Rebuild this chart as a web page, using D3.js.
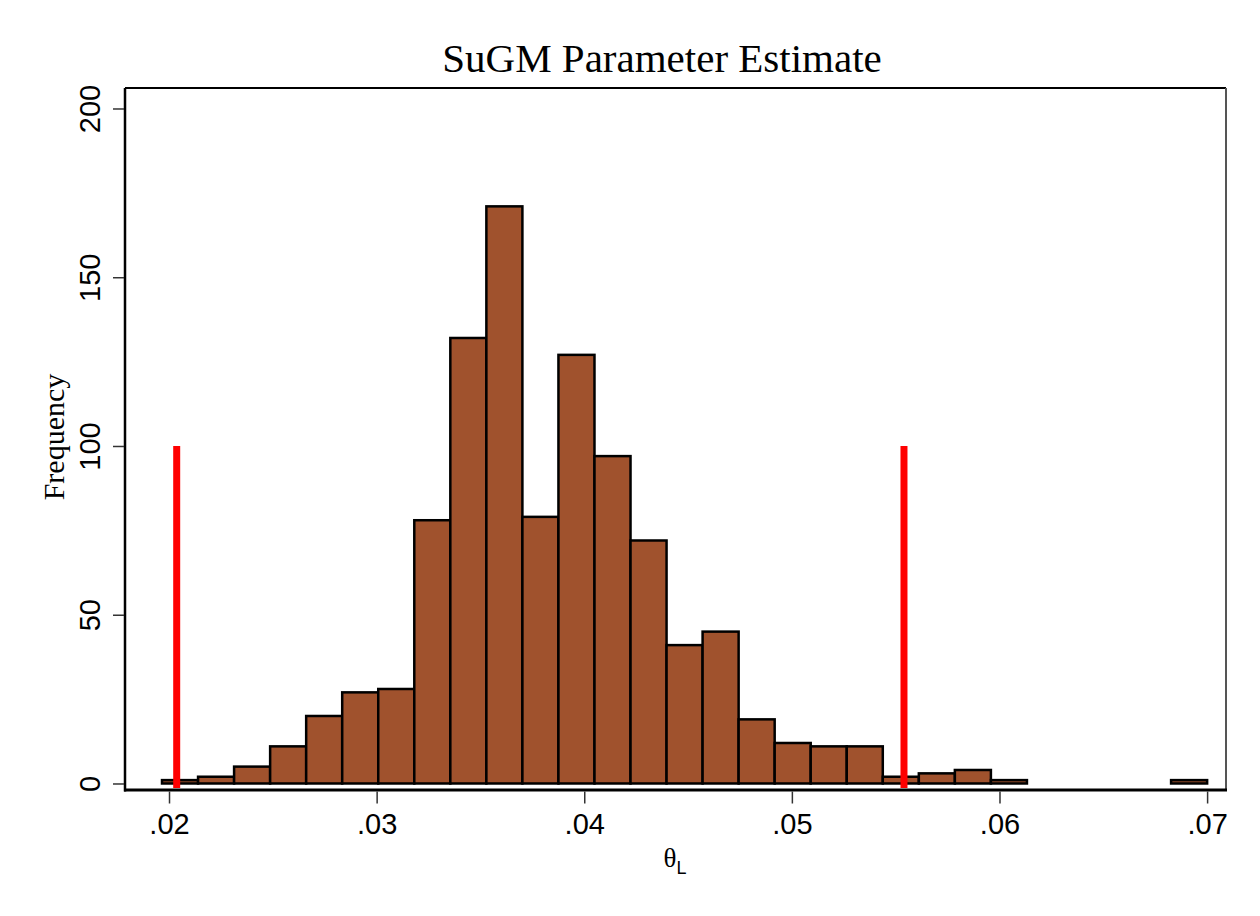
<!DOCTYPE html>
<html>
<head>
<meta charset="utf-8">
<script src="https://cdn.jsdelivr.net/npm/d3@7"></script>
<style>
  body { margin: 0; background: #fff; }
</style>
</head>
<body>
<div id="wrapper"></div>
<script>
// histogram counts (29 equal bins)
const counts = [1, 2, 5, 11, 20, 27, 28, 78, 132, 171, 79, 127, 97, 72, 41,
                45, 19, 12, 11, 11, 2, 3, 4, 1, 0, 0, 0, 0, 1]
const binStart = 0.019663
const binWidth = 0.0017358
// red reference lines (x position) and their height
const refLines = [0.02037, 0.0554]
const refTop = 100
const xTicks = [0.02, 0.03, 0.04, 0.05, 0.06, 0.07]
const yTicks = [0, 50, 100, 150, 200]

const dims = {
    width: 1260,
    height: 916,
    left: 125,
    right: 1226,
    top: 88,
    bottom: 790,
}

const svg = d3.select("#wrapper")
    .append("svg")
    .attr("width", dims.width)
    .attr("height", dims.height)

const x = d3.scaleLinear()
    .domain([0.01788, 0.07091])
    .range([dims.left, dims.right])

const y = d3.scaleLinear()
    .domain([-1.93, 206.07])
    .range([dims.bottom, dims.top])

const bins = counts.map((c, i) => ({
    x0: binStart + i * binWidth,
    x1: binStart + (i + 1) * binWidth,
    count: c,
}))

// bars
svg.append("g")
    .selectAll("rect")
    .data(bins.filter(d => d.count > 0))
    .enter()
    .append("rect")
    .attr("x", d => x(d.x0))
    .attr("y", d => y(d.count))
    .attr("width", d => x(d.x1) - x(d.x0))
    .attr("height", d => y(0) - y(d.count))
    .attr("fill", "#a0522d")
    .attr("stroke", "#000")
    .attr("stroke-width", 2.5)

// red lines
svg.append("g")
    .selectAll("line")
    .data(refLines)
    .enter()
    .append("line")
    .attr("x1", d => x(d))
    .attr("x2", d => x(d))
    .attr("y1", y(refTop))
    .attr("y2", dims.bottom - 2)
    .attr("stroke", "#ff0000")
    .attr("stroke-width", 7)

// frame
svg.append("line")
    .attr("x1", dims.left).attr("x2", dims.right)
    .attr("y1", dims.top).attr("y2", dims.top)
    .attr("stroke", "#000").attr("stroke-width", 2)
svg.append("line")
    .attr("x1", dims.right).attr("x2", dims.right)
    .attr("y1", dims.top).attr("y2", dims.bottom)
    .attr("stroke", "#555").attr("stroke-width", 2)
svg.append("line")
    .attr("x1", dims.left).attr("x2", dims.left)
    .attr("y1", dims.top).attr("y2", dims.bottom + 1.5)
    .attr("stroke", "#000").attr("stroke-width", 2.5)
svg.append("line")
    .attr("x1", dims.left - 1).attr("x2", dims.right + 1)
    .attr("y1", dims.bottom).attr("y2", dims.bottom)
    .attr("stroke", "#000").attr("stroke-width", 3)

// x axis
const xAxis = svg.append("g")
    .attr("transform", `translate(0,${dims.bottom + 1.5})`)
    .call(d3.axisBottom(x)
        .tickValues(xTicks)
        .tickSize(12)
        .tickFormat(d => d3.format(".2f")(d).replace(/^0/, "")))
xAxis.select(".domain").remove()
xAxis.selectAll(".tick line").attr("stroke", "#333").attr("stroke-width", 1.5)
xAxis.selectAll(".tick text")
    .attr("y", 42)
    .attr("dy", 0)
    .style("font", "29px 'Liberation Sans', Arial, sans-serif")
    .attr("fill", "#000")

// y axis
const yAxis = svg.append("g")
    .attr("transform", `translate(${dims.left - 1},0)`)
    .call(d3.axisLeft(y).tickValues(yTicks).tickSize(11))
yAxis.select(".domain").remove()
yAxis.selectAll(".tick line").attr("stroke", "#333").attr("stroke-width", 1.5)
yAxis.selectAll(".tick text")
    .attr("x", 0)
    .attr("dy", 0)
    .attr("transform", "translate(-24,0) rotate(-90)")
    .attr("text-anchor", "middle")
    .style("font", "29px 'Liberation Sans', Arial, sans-serif")
    .attr("fill", "#000")

// title
svg.append("text")
    .attr("x", 662)
    .attr("y", 72)
    .attr("text-anchor", "middle")
    .style("font", "41px 'Liberation Serif', 'Times New Roman', serif")
    .text("SuGM Parameter Estimate")

// y label
svg.append("text")
    .attr("transform", "translate(64,437) rotate(-90)")
    .attr("text-anchor", "middle")
    .style("font", "30px 'Liberation Serif', 'Times New Roman', serif")
    .text("Frequency")

// x label
const xLabel = svg.append("text")
    .attr("x", 675)
    .attr("y", 867)
    .attr("text-anchor", "middle")
xLabel.append("tspan")
    .style("font", "27px 'Liberation Serif', 'Times New Roman', serif")
    .text("θ")
xLabel.append("tspan")
    .attr("dy", 7)
    .style("font", "18px 'Liberation Sans', Arial, sans-serif")
    .text("L")
</script>
</body>
</html>
